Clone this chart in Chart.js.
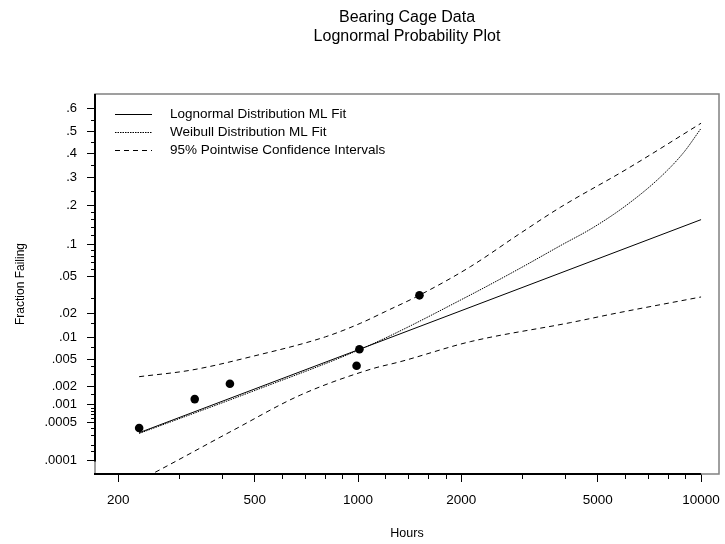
<!DOCTYPE html>
<html>
<head>
<meta charset="utf-8">
<script src="https://cdn.jsdelivr.net/npm/chart.js@4.4.1/dist/chart.umd.min.js"></script>
<style>
  html, body { margin: 0; padding: 0; background: #fff; }
</style>
</head>
<body>
<canvas id="myChart" width="725" height="544"></canvas>
<script>
// observed failures (hours) and their plotted fraction failing
const failHours = [230, 334, 423, 990, 1009, 1510];
const failFrac = [0.0004, 0.00124, 0.00217, 0.00404, 0.00689, 0.0319];

// lognormal ML fit (straight line on this paper)
const lnHours = [230, 1000, 10000];
const lnFrac = [0.00033, 0.00677, 0.159];

// weibull ML fit
const wbHours = [230, 485, 1086, 2125, 2972, 3887, 4862, 6082, 7606, 8896, 10000];
const wbFrac = [0.00032, 0.0016, 0.0079, 0.0322, 0.061, 0.098, 0.139, 0.203, 0.302, 0.405, 0.513];

// 95% pointwise confidence bands
const upHours = [230, 328, 485, 803, 1015, 1200, 1510, 2125, 2972, 3887, 6082, 10000];
const upFrac = [0.00278, 0.0035, 0.0054, 0.0101, 0.015, 0.0208, 0.032, 0.063, 0.1245, 0.195, 0.335, 0.536];
const loHours = [230, 253, 434, 679, 1086, 1328, 2125, 4157, 5688, 10000];
const loFrac = [0.00004, 0.000056, 0.00037, 0.00144, 0.00358, 0.00462, 0.00873, 0.0153, 0.020, 0.0306];

// axis ticks
const xTicks = [200, 500, 1000, 2000, 5000, 10000];
const xMinor = [300, 400, 600, 700, 800, 900, 1200, 1400, 1600, 1800, 3000, 4000, 6000, 7000, 8000, 9000];
const yTickFrac = [0.0001, 0.0005, 0.001, 0.002, 0.005, 0.01, 0.02, 0.05, 0.1, 0.2, 0.3, 0.4, 0.5, 0.6];
const yTickLabels = ['.0001', '.0005', '.001', '.002', '.005', '.01', '.02', '.05', '.1', '.2', '.3', '.4', '.5', '.6'];
const yMinorFrac = [0.00015, 0.0002, 0.0003, 0.0004, 0.0006, 0.0007, 0.0008, 0.0009, 0.0015, 0.003, 0.004,
    0.0075, 0.015, 0.03, 0.06, 0.07, 0.08, 0.09, 0.12, 0.14, 0.16, 0.18, 0.25, 0.35, 0.45, 0.55];

// inverse standard normal cdf (Acklam)
function probit(p) {
    const a = [-39.69683028665376, 220.9460984245205, -275.9285104469687, 138.3577518672690, -30.66479806614716, 2.506628277459239];
    const b = [-54.47609879822406, 161.5858368580409, -155.6989798598866, 66.80131188771972, -13.28068155288572];
    const c = [-0.007784894002430293, -0.3223964580411365, -2.400758277161838, -2.549732539343734, 4.374664141464968, 2.938163982698783];
    const d = [0.007784695709041462, 0.3224671290700398, 2.445134137142996, 3.754408661907416];
    const pl = 0.02425;
    let q, r;
    if (p < pl) {
        q = Math.sqrt(-2 * Math.log(p));
        return (((((c[0] * q + c[1]) * q + c[2]) * q + c[3]) * q + c[4]) * q + c[5]) /
            ((((d[0] * q + d[1]) * q + d[2]) * q + d[3]) * q + 1);
    }
    if (p > 1 - pl) {
        q = Math.sqrt(-2 * Math.log(1 - p));
        return -(((((c[0] * q + c[1]) * q + c[2]) * q + c[3]) * q + c[4]) * q + c[5]) /
            ((((d[0] * q + d[1]) * q + d[2]) * q + d[3]) * q + 1);
    }
    q = p - 0.5;
    r = q * q;
    return (((((a[0] * r + a[1]) * r + a[2]) * r + a[3]) * r + a[4]) * r + a[5]) * q /
        (((((b[0] * r + b[1]) * r + b[2]) * r + b[3]) * r + b[4]) * r + 1);
}

function toPoints(hours, frac) {
    return hours.map((h, i) => ({ x: h, y: probit(frac[i]) }));
}

const FONT = '"Liberation Sans", Arial, Helvetica, sans-serif';

function lineSet(label, hours, frac, dash, inLegend) {
    return {
        label: label,
        data: toPoints(hours, frac),
        showLine: true,
        borderColor: '#000',
        borderWidth: 1,
        borderDash: dash,
        pointRadius: 0,
        cubicInterpolationMode: 'monotone',
        inLegend: inLegend
    };
}

// frame, axis lines, minor ticks and the legend inside the plot
const decor = {
    id: 'decor',
    afterDraw(chart) {
        const ctx = chart.ctx;
        const a = chart.chartArea;
        const xs = chart.scales.x;
        const ys = chart.scales.y;
        ctx.save();
        ctx.strokeStyle = '#808080';
        ctx.lineWidth = 1.5;
        ctx.strokeRect(a.left, a.top, a.right - a.left, a.bottom - a.top);

        ctx.strokeStyle = '#000';
        ctx.lineWidth = 2;
        ctx.beginPath();
        ctx.moveTo(a.left, a.top);
        ctx.lineTo(a.left, ys.getPixelForValue(probit(yTickFrac[0])) + 1);
        ctx.moveTo(a.left - 1, a.bottom);
        ctx.lineTo(xs.getPixelForValue(xTicks[xTicks.length - 1]), a.bottom);
        ctx.stroke();

        ctx.lineWidth = 1;
        ctx.beginPath();
        xMinor.forEach(v => {
            const px = Math.round(xs.getPixelForValue(v)) + 0.5;
            ctx.moveTo(px, a.bottom);
            ctx.lineTo(px, a.bottom + 5);
        });
        yMinorFrac.forEach(p => {
            const py = Math.round(ys.getPixelForValue(probit(p))) + 0.5;
            ctx.moveTo(a.left - 4, py);
            ctx.lineTo(a.left, py);
        });
        ctx.stroke();

        // legend
        ctx.font = '13.5px ' + FONT;
        ctx.fillStyle = '#000';
        ctx.textBaseline = 'middle';
        let row = 0;
        chart.data.datasets.forEach(ds => {
            if (!ds.inLegend) return;
            const y = a.top + 20 + row * 18;
            ctx.beginPath();
            ctx.setLineDash(ds.borderDash || []);
            ctx.lineWidth = 1;
            ctx.moveTo(a.left + 20, y + 0.5);
            ctx.lineTo(a.left + 57, y + 0.5);
            ctx.stroke();
            ctx.setLineDash([]);
            ctx.fillText(ds.label, a.left + 75, y);
            row++;
        });
        ctx.restore();
    }
};

const ctx = document.getElementById('myChart').getContext('2d');
const myChart = new Chart(ctx, {
    type: 'scatter',
    data: {
        datasets: [
            lineSet('Lognormal Distribution ML Fit', lnHours, lnFrac, [], true),
            lineSet('Weibull Distribution ML Fit', wbHours, wbFrac, [1.5, 1], true),
            lineSet('95% Pointwise Confidence Intervals', upHours, upFrac, [5, 4], true),
            lineSet('lower', loHours, loFrac, [5, 4], false),
            {
                label: 'Failures',
                data: toPoints(failHours, failFrac),
                showLine: false,
                pointRadius: 4.3,
                pointBackgroundColor: '#000',
                pointBorderWidth: 0
            }
        ]
    },
    options: {
        responsive: false,
        animation: false,
        devicePixelRatio: 1,
        layout: { padding: { left: 0, right: 6, top: 0, bottom: 0 } },
        plugins: {
            legend: { display: false },
            tooltip: { enabled: false },
            title: {
                display: true,
                fullSize: false,
                text: ['Bearing Cage Data', 'Lognormal Probability Plot'],
                color: '#000',
                font: { family: FONT, size: 16, weight: 'normal', lineHeight: 1.2 },
                padding: { top: 8, bottom: 47.6 }
            }
        },
        scales: {
            x: {
                type: 'logarithmic',
                min: 171,
                max: 11280,
                afterBuildTicks: s => { s.ticks = xTicks.map(v => ({ value: v })); },
                afterFit: s => { s.height = 70; s.paddingLeft = 0; s.paddingRight = 0; },
                border: { display: false },
                grid: { drawOnChartArea: false, color: '#000', tickLength: 8 },
                ticks: {
                    autoSkip: false,
                    maxRotation: 0,
                    color: '#000',
                    padding: 10,
                    font: { family: FONT, size: 13.5 },
                    callback: v => String(v)
                },
                title: {
                    display: true,
                    text: 'Hours',
                    color: '#000',
                    font: { family: FONT, size: 12.5 },
                    padding: { top: 0, bottom: 3 }
                }
            },
            y: {
                type: 'linear',
                min: probit(0.000054),
                max: probit(0.663),
                afterBuildTicks: s => { s.ticks = yTickFrac.map(p => ({ value: probit(p) })); },
                afterFit: s => { s.width = 95; s.paddingTop = 0; s.paddingBottom = 0; },
                border: { display: false },
                grid: { drawOnChartArea: false, color: '#000', tickLength: 8 },
                ticks: {
                    autoSkip: false,
                    color: '#000',
                    padding: 10,
                    font: { family: FONT, size: 13 },
                    callback: (v, i) => yTickLabels[i]
                },
                title: {
                    display: true,
                    text: 'Fraction Failing',
                    color: '#000',
                    font: { family: FONT, size: 12 },
                    padding: { top: 13, bottom: 0 }
                }
            }
        }
    },
    plugins: [decor]
});
</script>
</body>
</html>
